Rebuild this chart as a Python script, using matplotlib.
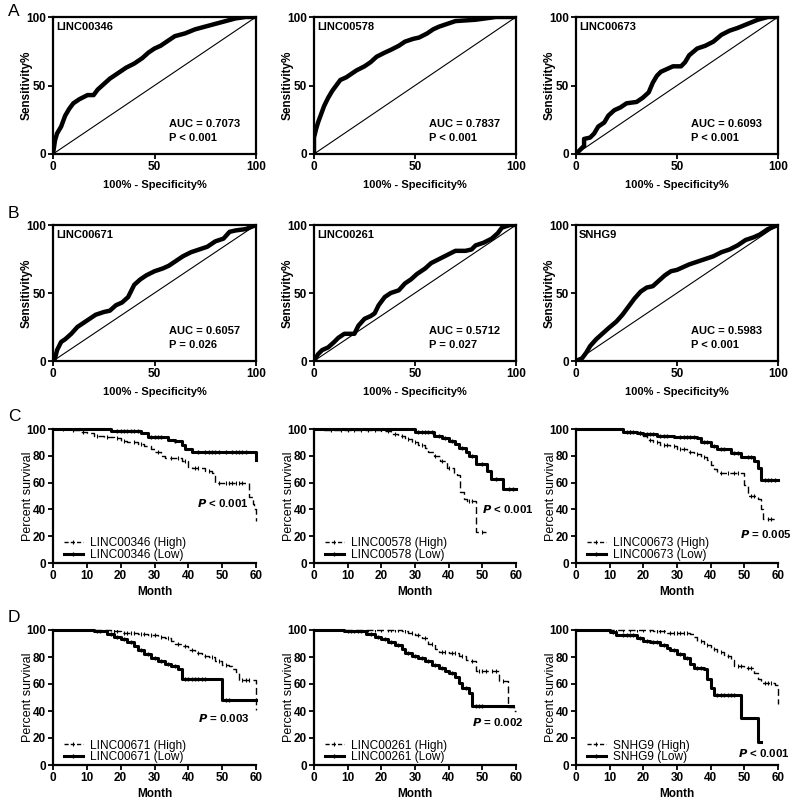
import matplotlib

matplotlib.use("Agg")
import matplotlib.pyplot as plt
from matplotlib.lines import Line2D
import numpy as np

plt.rcParams["font.family"] = ["Liberation Sans", "DejaVu Sans"]

# ---- ROC data: (100% - specificity, sensitivity) ----
roc_names = ["LINC00346", "LINC00578", "LINC00673", "LINC00671", "LINC00261", "SNHG9"]
roc_auc = ["0.7073", "0.7837", "0.6093", "0.6057", "0.5712", "0.5983"]
roc_p = ["P < 0.001", "P < 0.001", "P < 0.001", "P = 0.026", "P = 0.027", "P < 0.001"]

roc_x_346 = [0, 1, 2, 4, 6, 8, 10, 13, 17, 20, 22, 25, 28, 32, 36, 40, 44, 47, 50, 53, 56, 60, 65, 70, 75, 80, 85, 90, 95, 100]
roc_y_346 = [0, 10, 15, 20, 28, 33, 37, 40, 43, 43, 47, 51, 55, 59, 63, 66, 70, 74, 77, 79, 82, 86, 88, 91, 93, 95, 97, 99, 100, 100]
roc_x_578 = [0, 0, 1, 2, 3, 5, 7, 9, 11, 13, 16, 19, 21, 25, 28, 31, 35, 38, 42, 45, 49, 52, 56, 59, 62, 66, 70, 75, 80, 85, 90, 100]
roc_y_578 = [0, 12, 18, 23, 27, 35, 41, 46, 50, 54, 56, 59, 61, 64, 67, 71, 74, 76, 79, 82, 84, 85, 88, 91, 93, 95, 97, 97.5, 98, 99, 100, 100]
roc_x_673 = [0, 2, 4, 4, 7, 9, 11, 14, 16, 19, 22, 25, 30, 33, 36, 38, 40, 42, 45, 48, 52, 54, 56, 60, 64, 68, 72, 76, 80, 85, 90, 95, 100]
roc_y_673 = [0, 3, 6, 11, 12, 15, 20, 23, 28, 32, 34, 37, 38, 41, 45, 52, 57, 60, 62, 64, 64, 67, 72, 77, 79, 82, 87, 90, 92, 95, 98, 100, 100]
roc_x_671 = [0, 1, 2, 4, 6, 9, 12, 15, 18, 21, 25, 28, 31, 34, 37, 40, 43, 46, 50, 54, 57, 60, 64, 68, 72, 76, 80, 84, 87, 90, 95, 100]
roc_y_671 = [0, 2, 8, 14, 16, 20, 25, 28, 31, 34, 36, 37, 41, 43, 47, 56, 60, 63, 66, 68, 70, 73, 77, 80, 82, 84, 88, 90, 95, 96, 97, 100]
roc_x_261 = [0, 2, 4, 7, 10, 12, 15, 20, 22, 25, 28, 30, 32, 35, 38, 42, 45, 48, 51, 55, 58, 62, 66, 70, 75, 78, 80, 84, 88, 91, 93, 97, 100]
roc_y_261 = [0, 5, 8, 10, 14, 17, 20, 20, 26, 31, 33, 35, 41, 47, 50, 52, 57, 60, 64, 68, 72, 75, 78, 81, 81, 82, 85, 87, 90, 94, 98, 100, 100]
roc_x_snhg9 = [0, 3, 5, 7, 10, 13, 16, 20, 23, 26, 29, 32, 35, 38, 41, 44, 47, 50, 53, 56, 60, 64, 68, 72, 76, 80, 84, 88, 91, 95, 100]
roc_y_snhg9 = [0, 2, 6, 11, 16, 20, 24, 29, 34, 40, 46, 51, 54, 55, 59, 63, 66, 67, 69, 71, 73, 75, 77, 80, 82, 85, 89, 91, 93, 97, 100]

roc_xs = [roc_x_346, roc_x_578, roc_x_673, roc_x_671, roc_x_261, roc_x_snhg9]
roc_ys = [roc_y_346, roc_y_578, roc_y_673, roc_y_671, roc_y_261, roc_y_snhg9]

# ---- Kaplan-Meier data: step times (month) and percent survival ----
km_names = ["LINC00346", "LINC00578", "LINC00673", "LINC00671", "LINC00261", "SNHG9"]
km_p = ["< 0.001", "< 0.001", "= 0.005", "= 0.003", "= 0.002", "< 0.001"]

hi_t_346 = [0, 5, 8, 10, 12, 15, 18, 20, 22, 25, 27, 29, 30, 32, 33, 38, 40, 41, 45, 47, 48, 58, 59, 59.5, 60]
hi_s_346 = [100, 99, 98, 97, 95, 94, 93, 91, 90, 89, 87, 85, 83, 80, 78, 76, 72, 71, 69, 67, 60, 49, 44, 40, 31]
lo_t_346 = [0, 17, 26, 28, 34, 36, 38, 39, 41, 60]
lo_s_346 = [100, 98.5, 97, 94, 92, 91, 88, 85, 83, 77]
hi_t_578 = [0, 3, 20, 23, 25, 27, 29, 31, 33, 34, 35.5, 37.5, 39.5, 41.5, 42.5, 43.5, 44.5, 45.5, 48]
hi_s_578 = [100, 99, 98.5, 96.5, 95, 92.8, 90, 88, 86, 83, 80, 76, 71, 67, 65.5, 53, 48, 46, 23]
lo_t_578 = [0, 30, 35.5, 38, 40, 42, 43, 45, 46, 48, 51.5, 52.5, 56]
lo_s_578 = [100, 98, 95, 93, 91, 89, 86, 83, 80, 74, 69, 63, 55]
hi_t_673 = [0, 14, 18, 20, 21, 23, 25, 28, 30, 33, 35, 37, 39, 40, 41, 42, 50, 51, 54, 55, 55.5]
hi_s_673 = [100, 98, 97, 95, 92, 90, 88, 87, 85, 83, 81, 79, 77, 73, 70, 67, 58, 50, 48, 40, 33]
lo_t_673 = [0, 14, 18, 20, 24, 29, 36, 37, 40, 42, 46, 49, 53, 54, 55]
lo_s_673 = [100, 98, 97, 96, 95, 94, 93, 90, 87, 85, 82, 79, 76, 71, 62]
hi_t_671 = [0, 17, 20, 25, 28, 31, 33, 35, 36, 38, 40, 42, 44, 46, 48, 50, 52, 53, 54, 55, 60]
hi_s_671 = [100, 99, 98, 97, 96, 95, 94, 92, 90, 88, 85, 83, 81, 80, 77, 74, 73, 71, 69, 63, 41]
lo_t_671 = [0, 12, 16, 18, 20, 22, 24, 25, 27, 29, 31, 33, 35, 37, 38, 50]
lo_s_671 = [100, 99, 97, 95, 93, 91, 88, 85, 82, 79, 77, 75, 73, 71, 64, 48]
hi_t_261 = [0, 26, 28, 30, 32, 34, 36, 37, 40, 43, 45, 46, 48, 55, 57.5, 59.5]
hi_s_261 = [100, 99, 98, 96, 94, 90, 86, 84, 83, 81, 78, 77, 70, 62, 43, 40]
lo_t_261 = [0, 9, 15.5, 18, 20, 22, 24, 26, 27, 29, 31, 33, 35, 37, 39, 40, 42, 43, 44, 46, 47]
lo_s_261 = [100, 99, 97, 95, 93, 91, 89, 86, 83, 81, 79, 77, 74, 72, 70, 68, 65, 61, 57, 53, 44]
hi_t_snhg9 = [0, 23, 27, 34, 35, 36, 38, 40, 42, 44, 46, 47, 50, 53, 54, 55, 59, 60]
hi_s_snhg9 = [100, 99, 98, 97, 95, 92, 89, 86, 84, 81, 78, 73, 72, 68, 64, 61, 59, 45]
lo_t_snhg9 = [0, 10, 12, 18, 20, 22, 25, 27, 28, 30, 32, 34, 35, 38, 39, 40, 41, 49, 54]
lo_s_snhg9 = [100, 98.5, 96, 94, 92, 91, 89, 87, 85, 82, 79, 75, 72, 71, 64, 57, 52, 35, 17]

hi_end = [60, 51, 59, 60, 60, 60]
lo_end = [60, 60, 60, 60, 59, 55]

hi_cens_346 = [3, 6, 9, 13, 16, 19, 21, 24, 26, 31, 35, 37, 39, 42, 43, 46, 49, 51, 52, 53, 54, 55, 56]
lo_cens_346 = [19, 20, 21, 22, 23, 24, 25, 29, 30, 31, 32, 36, 43, 45, 46, 47, 48, 49, 51, 53, 54, 55, 56, 57]
hi_cens_578 = [5, 8, 10, 12, 14, 16, 18, 22, 24, 26, 28, 30, 32, 36, 38, 40, 46, 47, 50]
lo_cens_578 = [31, 32, 33, 34, 35, 37, 39, 41, 44, 47, 50, 54, 58, 59]
hi_cens_673 = [16, 19, 22, 24, 26, 27, 29, 31, 32, 34, 36, 38, 43, 45, 47, 48, 52, 53, 57, 58]
lo_cens_673 = [15, 16, 17, 19, 21, 22, 23, 25, 26, 27, 31, 32, 33, 34, 35, 38, 39, 41, 43, 44, 47, 48, 51, 52, 56, 57, 58, 59]
hi_cens_671 = [18, 19, 21, 22, 23, 24, 26, 27, 29, 30, 32, 34, 37, 39, 41, 43, 45, 47, 49, 51, 56, 57, 58]
lo_cens_671 = [13, 14, 17, 19, 21, 23, 26, 28, 30, 32, 34, 36, 39, 40, 41, 42, 43, 44, 45, 51, 52]
hi_cens_261 = [10, 12, 14, 16, 18, 20, 22, 23, 24, 25, 27, 29, 31, 33, 35, 38, 39, 41, 42, 44, 47, 49, 50, 51, 53, 54, 56]
lo_cens_261 = [10, 11, 12, 13, 14, 17, 19, 21, 23, 25, 28, 30, 32, 34, 36, 38, 41, 45, 48, 49, 50]
hi_cens_snhg9 = [12, 14, 16, 18, 20, 22, 24, 25, 26, 28, 29, 30, 31, 32, 33, 37, 39, 41, 43, 45, 48, 49, 51, 52, 56, 57, 58]
lo_cens_snhg9 = [11, 14, 15, 16, 17, 19, 21, 23, 24, 26, 29, 31, 33, 36, 37, 42, 43, 44, 45, 46, 47]

hi_ts = [hi_t_346, hi_t_578, hi_t_673, hi_t_671, hi_t_261, hi_t_snhg9]
hi_ss = [hi_s_346, hi_s_578, hi_s_673, hi_s_671, hi_s_261, hi_s_snhg9]
lo_ts = [lo_t_346, lo_t_578, lo_t_673, lo_t_671, lo_t_261, lo_t_snhg9]
lo_ss = [lo_s_346, lo_s_578, lo_s_673, lo_s_671, lo_s_261, lo_s_snhg9]
hi_cens = [hi_cens_346, hi_cens_578, hi_cens_673, hi_cens_671, hi_cens_261, hi_cens_snhg9]
lo_cens = [lo_cens_346, lo_cens_578, lo_cens_673, lo_cens_671, lo_cens_261, lo_cens_snhg9]

W, H = 792, 801
fig = plt.figure(figsize=(W / 100, H / 100), dpi=100)

col_px = [(53, 256), (314, 516), (576, 778)]
roc_rows = [(17, 154), (225, 361)]
km_rows = [(429, 563), (630, 765)]


def px_axes(x0, x1, top, bottom):
    return fig.add_axes([x0 / W, 1 - bottom / H, (x1 - x0) / W, (bottom - top) / H])


def style_ticks(ax):
    ax.tick_params(direction="out", length=3.5, width=1.3, labelsize=8.5, pad=1.5)
    for lab in ax.get_xticklabels() + ax.get_yticklabels():
        lab.set_fontweight("bold")


def step_value(t, s, x):
    i = np.searchsorted(t, x, side="right") - 1
    return np.asarray(s)[i]


# ROC panels
for i in range(6):
    r, c = divmod(i, 3)
    ax = px_axes(*col_px[c], *roc_rows[r])
    ax.plot([0, 100], [0, 100], color="black", lw=0.8)
    ax.plot(roc_xs[i], roc_ys[i], color="black", lw=3.2, solid_joinstyle="round", solid_capstyle="round")
    ax.set_xlim(0, 100)
    ax.set_ylim(0, 100)
    ax.set_xticks([0, 50, 100])
    ax.set_yticks([0, 50, 100])
    for sp in ax.spines.values():
        sp.set_linewidth(1.6)
    style_ticks(ax)
    ax.set_xlabel("100% - Specificity%", fontsize=8, fontweight="bold", labelpad=5)
    ax.set_ylabel("Sensitivity%", fontsize=8.5, fontweight="bold")
    ax.yaxis.set_label_coords(-0.10, 0.5)
    ax.text(1.5, 93, roc_names[i], fontsize=8, fontweight="bold", va="center", ha="left")
    ax.text(57, 22, "AUC = " + roc_auc[i], fontsize=8, fontweight="bold", va="center", ha="left")
    ax.text(57, 12, roc_p[i], fontsize=8, fontweight="bold", va="center", ha="left")

# Survival panels
p_pos = [(42.5, 45), (50, 40), (48.7, 22), (43, 35), (47, 32), (48, 9)]
for i in range(6):
    r, c = divmod(i, 3)
    ax = px_axes(*col_px[c], *km_rows[r])
    ht = list(hi_ts[i]) + [hi_end[i]]
    hs = list(hi_ss[i]) + [hi_ss[i][-1]]
    lt = list(lo_ts[i]) + [lo_end[i]]
    ls = list(lo_ss[i]) + [lo_ss[i][-1]]
    ax.plot(ht, hs, drawstyle="steps-post", color="black", lw=1.0, ls=(0, (5, 2.5)), clip_on=False)
    ax.plot(lt, ls, drawstyle="steps-post", color="black", lw=2.2, clip_on=False)
    hc = np.array(hi_cens[i], dtype=float)
    lc = np.array(lo_cens[i], dtype=float)
    ax.plot(hc, step_value(hi_ts[i], hi_ss[i], hc), ls="none", marker="|", ms=3.5, mew=0.8, color="black")
    ax.plot(lc, step_value(lo_ts[i], lo_ss[i], lc), ls="none", marker="|", ms=3.5, mew=1.0, color="black")
    ax.set_xlim(0, 60)
    ax.set_ylim(0, 100)
    ax.set_xticks(range(0, 61, 10))
    ax.set_yticks(range(0, 101, 20))
    ax.spines["top"].set_visible(False)
    ax.spines["right"].set_visible(False)
    ax.spines["left"].set_linewidth(1.6)
    ax.spines["bottom"].set_linewidth(1.6)
    style_ticks(ax)
    ax.set_xlabel("Month", fontsize=8.5, fontweight="bold", labelpad=3)
    ax.set_ylabel("Percent survival", fontsize=9)
    ax.yaxis.set_label_coords(-0.095, 0.5)
    handles = [
        Line2D([], [], color="black", lw=1.0, ls=(0, (3, 1.5)), marker="|", ms=3, mew=0.8, markevery=[1]),
        Line2D([], [], color="black", lw=2.2, marker="|", ms=3, mew=1.0, markevery=[1]),
    ]
    ax.legend(handles, [km_names[i] + " (High)", km_names[i] + " (Low)"], loc="lower left",
              bbox_to_anchor=(0.03, -0.02), frameon=False, fontsize=8.6, handlelength=1.6,
              handletextpad=0.6, labelspacing=-0.05, borderaxespad=0)
    ax.text(p_pos[i][0], p_pos[i][1], "$\\mathbfit{P}$ " + km_p[i], fontsize=8.2, fontweight="bold",
            va="center", ha="left")

for lab, y in zip("ABCD", [12, 214, 416, 617]):
    fig.text(8 / W, 1 - y / H, lab, fontsize=12.5, va="center", ha="left")

fig.savefig("out.png", dpi=100)
